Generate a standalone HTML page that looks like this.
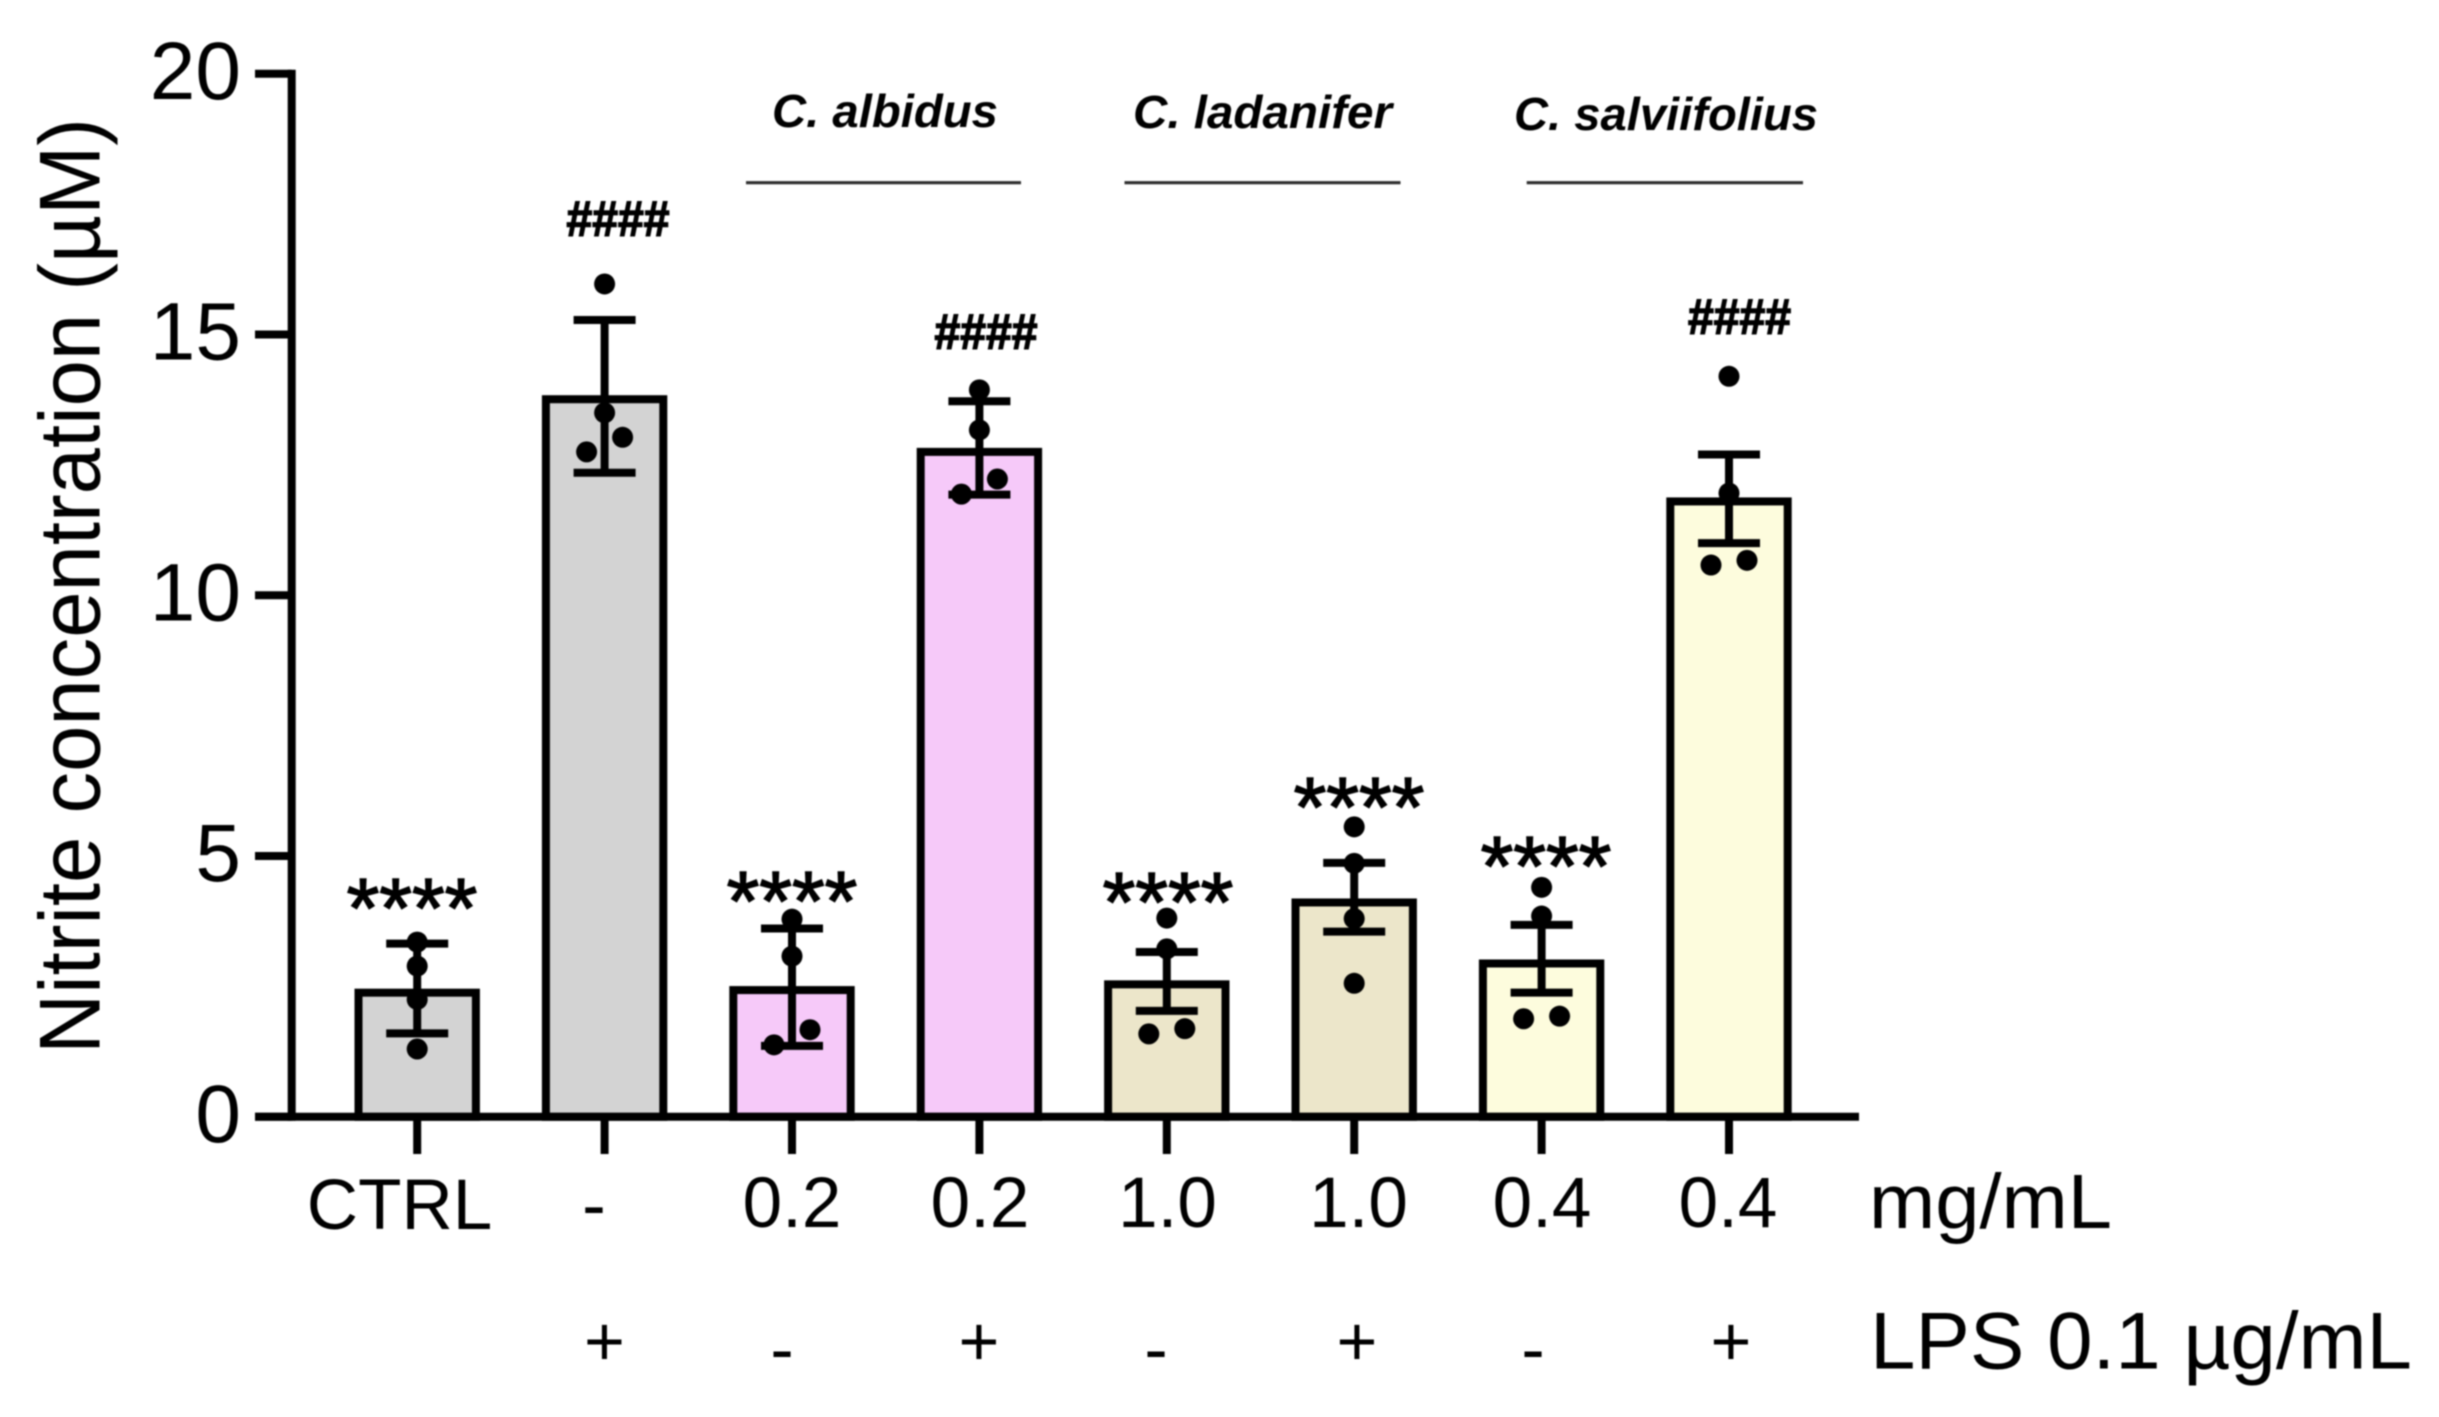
<!DOCTYPE html>
<html lang="en">
<head>
<meta charset="utf-8">
<title>Nitrite concentration bar chart</title>
<style>
html,body{margin:0;padding:0;background:#fff;}
body{width:2439px;height:1417px;overflow:hidden;}
svg{display:block;filter:blur(0.7px);}
text{font-family:"Liberation Sans",Arial,sans-serif;fill:#000;}
</style>
</head>
<body>
<svg id="chart" xmlns="http://www.w3.org/2000/svg" width="2439" height="1417" viewBox="0 0 2439 1417">
  <rect x="0" y="0" width="2439" height="1417" fill="#fff"/>
  <g id="bars"></g>
  <g id="axes"></g>
  <g id="errors"></g>
  <g id="points"></g>

  <text transform="translate(99.5,1054) rotate(-90)" font-size="86" textLength="936" lengthAdjust="spacingAndGlyphs">Nitrite concentration (µM)</text>

  <g font-size="71" text-anchor="middle">
    <text x="399.5" y="1229">CTRL</text>
    <text x="594" y="1229">-</text>
    <text x="792" y="1227">0.2</text>
    <text x="980" y="1227">0.2</text>
    <text x="1167.5" y="1227">1.0</text>
    <text x="1358.5" y="1227">1.0</text>
    <text x="1542" y="1227">0.4</text>
    <text x="1728" y="1227">0.4</text>
  </g>
  <text x="1869" y="1228" font-size="77" textLength="243" lengthAdjust="spacingAndGlyphs">mg/mL</text>

  <g font-size="70" text-anchor="middle">
    <text x="604.5" y="1365">+</text>
    <text x="782" y="1373">-</text>
    <text x="979" y="1365">+</text>
    <text x="1156" y="1373">-</text>
    <text x="1357" y="1365">+</text>
    <text x="1533" y="1373">-</text>
    <text x="1731" y="1365">+</text>
  </g>
  <text x="1870" y="1368.5" font-size="81" textLength="542" lengthAdjust="spacingAndGlyphs">LPS 0.1 µg/mL</text>

  <g font-size="84" text-anchor="middle" stroke="#000" stroke-width="1.5">
    <text x="412" y="937">****</text>
    <text x="792" y="930">****</text>
    <text x="1168" y="931">****</text>
    <text x="1359" y="836">****</text>
    <text x="1546" y="895">****</text>
  </g>
  <g font-size="50" font-weight="bold" text-anchor="middle" stroke="#000" stroke-width="1.5">
    <text x="618" y="236" textLength="103" lengthAdjust="spacingAndGlyphs">####</text>
    <text x="986" y="349" textLength="103" lengthAdjust="spacingAndGlyphs">####</text>
    <text x="1739.5" y="334" textLength="103" lengthAdjust="spacingAndGlyphs">####</text>
  </g>

  <g font-size="46" font-style="italic" font-weight="bold">
    <text x="772" y="127" textLength="226" lengthAdjust="spacingAndGlyphs">C. albidus</text>
    <text x="1133" y="128" textLength="259" lengthAdjust="spacingAndGlyphs">C. ladanifer</text>
    <text x="1514" y="130" textLength="304" lengthAdjust="spacingAndGlyphs">C. salviifolius</text>
  </g>
  <g stroke="#2c2c2c" stroke-width="3.2">
    <line x1="746" x2="1021" y1="182.7" y2="182.7"/>
    <line x1="1124.5" x2="1400.5" y1="182.7" y2="182.7"/>
    <line x1="1526.7" x2="1803" y1="182.7" y2="182.7"/>
  </g>
</svg>
<script>
const categories = ['CTRL', 'LPS', 'albidus', 'albidus+LPS', 'ladanifer', 'ladanifer+LPS', 'salviifolius', 'salviifolius+LPS'];
const means = [2.38, 13.76, 2.43, 12.75, 2.54, 4.11, 2.94, 11.8];
const errorHigh = [3.32, 15.28, 3.61, 13.72, 3.16, 4.87, 3.68, 12.7];
const errorLow = [1.6, 12.35, 1.36, 11.93, 2.03, 3.55, 2.38, 11.0];
const pointValues = [
  [3.35, 2.89, 2.25, 1.3],
  [15.97, 13.5, 13.03, 12.75],
  [3.79, 3.08, 1.67, 1.38],
  [13.94, 13.17, 12.23, 11.94],
  [3.81, 3.22, 1.69, 1.59],
  [5.56, 4.86, 3.8, 2.56],
  [4.4, 3.85, 1.93, 1.88],
  [14.2, 11.96, 10.67, 10.58]
];
const pointSides = [
  [0, 0, 0, 0],
  [0, 0, 1, -1],
  [0, 0, 1, -1],
  [0, 0, 1, -1],
  [0, 0, 1, -1],
  [0, 0, 0, 0],
  [0, 0, 1, -1],
  [0, 0, 1, -1]
];
const yTicks = [0, 5, 10, 15, 20];
const barGroups = ['control', 'control', 'albidus', 'albidus', 'ladanifer', 'ladanifer', 'salviifolius', 'salviifolius'];

const NS = 'http://www.w3.org/2000/svg';
const groupFill = { control: '#d3d3d3', albidus: '#f6c9f9', ladanifer: '#ece6ca', salviifolius: '#fdfcdd' };
const yScale = function (v) { return 1116.8 - v * 52.15; };
const xScale = function (i) { return 417.2 + i * 187.4; };
const BAR_W = 117.4, CAP_HALF = 31, JITTER = 18, DOT_R = 10.5, LINE_W = 8;

function make(parent, tag, attrs) {
  const el = document.createElementNS(NS, tag);
  Object.keys(attrs).forEach(function (k) { el.setAttribute(k, attrs[k]); });
  parent.appendChild(el);
  return el;
}

const barsG = document.getElementById('bars');
const axesG = document.getElementById('axes');
const errorsG = document.getElementById('errors');
const pointsG = document.getElementById('points');

categories.forEach(function (cat, i) {
  const cx = xScale(i);
  const top = yScale(means[i]);
  const bar = make(barsG, 'rect', { x: cx - BAR_W / 2, y: top, width: BAR_W, height: yScale(0) - top, fill: groupFill[barGroups[i]], stroke: '#000', 'stroke-width': LINE_W });
  
  

  const hi = yScale(errorHigh[i]);
  const lo = yScale(errorLow[i]);
  const stem = make(errorsG, 'line', { x1: cx, x2: cx, y1: hi, y2: lo, stroke: '#000', 'stroke-width': LINE_W });
  
  
  const capHi = make(errorsG, 'line', { x1: cx - CAP_HALF, x2: cx + CAP_HALF, y1: hi, y2: hi, stroke: '#000', 'stroke-width': LINE_W });
  
  
  const capLo = make(errorsG, 'line', { x1: cx - CAP_HALF, x2: cx + CAP_HALF, y1: lo, y2: lo, stroke: '#000', 'stroke-width': LINE_W });
  
  

  pointValues[i].forEach(function (v, j) {
    const dot = make(pointsG, 'circle', { cx: cx + pointSides[i][j] * JITTER, cy: yScale(v), r: DOT_R, fill: '#000' });
    
    
  });

  const tick = make(axesG, 'line', { x1: cx, x2: cx, y1: yScale(0), y2: 1154, stroke: '#000', 'stroke-width': LINE_W });
  
  
});

const yAxis = make(axesG, 'line', { x1: 291.7, x2: 291.7, y1: yScale(20) - 4, y2: yScale(0) + 4, stroke: '#000', 'stroke-width': LINE_W });


const xAxis = make(axesG, 'line', { x1: 255, x2: 1859, y1: yScale(0), y2: yScale(0), stroke: '#000', 'stroke-width': LINE_W });



yTicks.forEach(function (t) {
  const y = yScale(t);
  const tick = make(axesG, 'line', { x1: 255, x2: 291.7, y1: y, y2: y, stroke: '#000', 'stroke-width': LINE_W });
  
  
  const label = make(axesG, 'text', { x: 241, y: y + 25, 'font-size': 82, 'text-anchor': 'end' });
  
  
  label.textContent = String(t);
});
</script>
</body>
</html>
